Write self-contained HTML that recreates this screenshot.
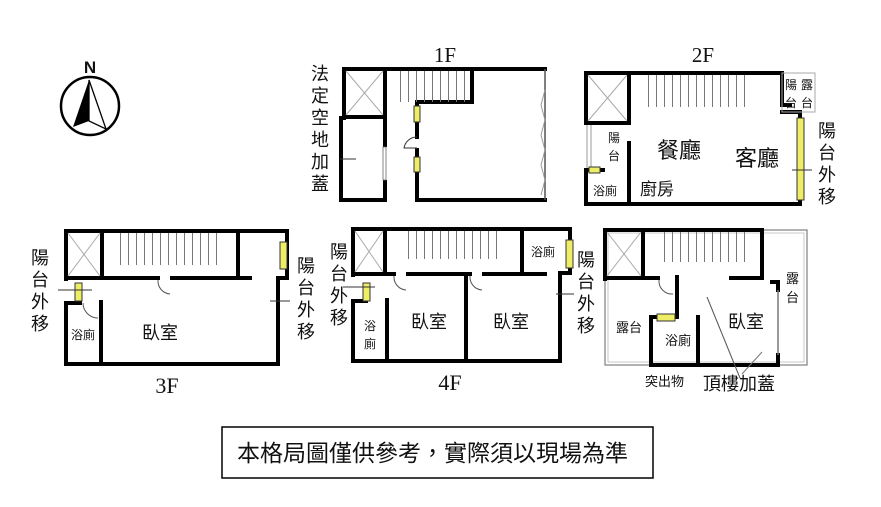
<!DOCTYPE html>
<html><head><meta charset="utf-8"><style>
html,body{margin:0;padding:0;background:#fff;}
svg{display:block;}
text{font-family:"Liberation Serif","Noto Serif CJK SC","Noto Sans CJK TC",serif;fill:#111;}
.s{font-family:"Liberation Sans","Noto Sans CJK TC",sans-serif;}
</style></head><body>
<svg width="881" height="507" viewBox="0 0 881 507" xmlns="http://www.w3.org/2000/svg">
<defs>
<pattern id="st" width="8" height="10" patternUnits="userSpaceOnUse"><line x1="0.5" y1="0" x2="0.5" y2="10" stroke="#777" stroke-width="1"/></pattern>
</defs>
<rect width="881" height="507" fill="#fff"/>

<!-- Compass -->
<text x="90" y="73" font-size="17" font-weight="bold" text-anchor="middle" class="s" font-family="Liberation Sans">N</text>
<circle cx="90" cy="106" r="29" fill="none" stroke="#000" stroke-width="2.5"/>
<polygon points="89,80 73,127 89,121" fill="#000"/>
<polygon points="89,80 106,129 89,121" fill="none" stroke="#000" stroke-width="1.3"/>

<!-- 1F -->
<text x="445" y="62" font-size="21" text-anchor="middle">1F</text>
<g stroke="#000" stroke-width="4" fill="none" stroke-linecap="square">
<polyline points="385,200 341,200 341,118 344,118 344,69 545,69"/>
<line x1="417" y1="200" x2="545" y2="200"/>
<line x1="344" y1="117" x2="385" y2="117"/>
<line x1="385" y1="69" x2="385" y2="145"/>
<line x1="385" y1="182" x2="385" y2="200"/>
<line x1="417" y1="102" x2="472" y2="102"/>
<line x1="472" y1="69" x2="472" y2="102"/>
<line x1="417" y1="102" x2="417" y2="137"/>
<line x1="417" y1="150" x2="417" y2="200"/>
</g>
<line x1="545" y1="69" x2="545" y2="200" stroke="#555" stroke-width="1.5"/>
<polyline points="545,90 541,105 545,120 541,135 545,150 541,165 545,180 541,195" fill="none" stroke="#999"/>
<line x1="346" y1="71" x2="383" y2="115" stroke="#aaa"/><line x1="383" y1="71" x2="346" y2="115" stroke="#aaa"/>
<rect x="400" y="71" width="72" height="31" fill="url(#st)"/>
<rect x="383" y="147" width="3" height="33" fill="#fff" stroke="#666" stroke-width="0.8"/>
<rect x="414" y="106" width="6" height="16" fill="#ee6" stroke="#333"/>
<rect x="414" y="157" width="6" height="15" fill="#ee6" stroke="#333"/>
<path d="M417,137 A13,13 0 0 0 404,148 L417,148" fill="none" stroke="#333"/>
<line x1="340" y1="159" x2="356" y2="159" stroke="#333"/>
<text font-size="18" class="s"><tspan x="311" y="80">法</tspan><tspan x="311" y="102">定</tspan><tspan x="311" y="124">空</tspan><tspan x="311" y="146">地</tspan><tspan x="311" y="168">加</tspan><tspan x="311" y="190">蓋</tspan></text>

<!-- 2F -->
<text x="703" y="62" font-size="21" text-anchor="middle">2F</text>
<g stroke="#000" stroke-width="4" fill="none" stroke-linecap="square">
<polyline points="586,123 586,73 782,73 782,105 790,105"/>
<polyline points="782,112 800,112 800,204 629,204"/>
<polyline points="586,170 586,204 629,204"/>
<line x1="586" y1="123" x2="629" y2="123"/>
<line x1="629" y1="73" x2="629" y2="123"/>
<line x1="629" y1="143" x2="629" y2="204"/>
<line x1="586" y1="170" x2="603" y2="170"/>
</g>
<line x1="588" y1="75" x2="627" y2="121" stroke="#aaa"/><line x1="627" y1="75" x2="588" y2="121" stroke="#aaa"/>
<rect x="643" y="75" width="107" height="32" fill="url(#st)"/>
<line x1="587" y1="125" x2="587" y2="168" stroke="#999"/><line x1="591" y1="125" x2="591" y2="168" stroke="#999"/>
<rect x="782" y="73" width="33" height="39" fill="none" stroke="#aaa"/>
<rect x="797" y="118" width="7" height="82" fill="#ee6" stroke="#333"/>
<line x1="792" y1="170" x2="812" y2="170" stroke="#333"/>
<rect x="589" y="167" width="11" height="6" fill="#ee6" stroke="#333"/>
<text font-size="22" class="s" x="657" y="158">餐廳</text>
<text font-size="22" class="s" x="735" y="166">客廳</text>
<text font-size="17" class="s" x="640" y="195">廚房</text>
<text font-size="12" class="s" x="593" y="195">浴廁</text>
<text font-size="12" class="s" fill="#555"><tspan x="608" y="142">陽</tspan><tspan x="608" y="160">台</tspan></text>
<text font-size="12" class="s"><tspan x="785" y="89">陽</tspan><tspan x="801" y="89">露</tspan><tspan x="785" y="107">台</tspan><tspan x="801" y="107">台</tspan></text>
<text font-size="18" class="s"><tspan x="818" y="137">陽</tspan><tspan x="818" y="159">台</tspan><tspan x="818" y="181">外</tspan><tspan x="818" y="203">移</tspan></text>

<!-- 3F -->
<text x="167" y="393" font-size="22" text-anchor="middle">3F</text>
<g stroke="#000" stroke-width="4" fill="none" stroke-linecap="square">
<polyline points="66,279 66,231 287,231 287,278 278,278 278,364 66,364 66,303 80,303"/>
<line x1="66" y1="278" x2="158" y2="278"/>
<line x1="172" y1="278" x2="250" y2="278"/>
<line x1="102" y1="231" x2="102" y2="278"/>
<line x1="238" y1="231" x2="238" y2="278"/>
<line x1="101" y1="302" x2="101" y2="364"/>
</g>
<line x1="68" y1="233" x2="100" y2="276" stroke="#aaa"/><line x1="100" y1="233" x2="68" y2="276" stroke="#aaa"/>
<rect x="116" y="233" width="102" height="32" fill="url(#st)"/>
<rect x="280" y="242" width="7" height="27" fill="#ee6" stroke="#333"/>
<rect x="75" y="283" width="7" height="18" fill="#ee6" stroke="#333"/>
<line x1="58" y1="290" x2="92" y2="290" stroke="#333"/>
<line x1="270" y1="301" x2="290" y2="301" stroke="#333"/>
<path d="M158,280 A13,13 0 0 0 170,294" fill="none" stroke="#555"/>
<path d="M83,303 A15,15 0 0 0 98,318" fill="none" stroke="#555"/>
<text font-size="18" class="s" x="142" y="339">臥室</text>
<text font-size="12" class="s" x="71" y="339">浴廁</text>
<text font-size="18" class="s"><tspan x="31" y="264">陽</tspan><tspan x="31" y="286">台</tspan><tspan x="31" y="308">外</tspan><tspan x="31" y="330">移</tspan></text>
<text font-size="18" class="s"><tspan x="297" y="272">陽</tspan><tspan x="297" y="294">台</tspan><tspan x="297" y="316">外</tspan><tspan x="297" y="338">移</tspan></text>

<!-- 4F -->
<text x="450" y="390" font-size="22" text-anchor="middle">4F</text>
<g stroke="#000" stroke-width="4" fill="none" stroke-linecap="square">
<polyline points="353,275 353,229 570,229 570,273 560,273 560,361 353,361 353,301 366,301"/>
<line x1="353" y1="274" x2="394" y2="274"/>
<line x1="408" y1="274" x2="470" y2="274"/>
<line x1="484" y1="274" x2="545" y2="274"/>
<line x1="385" y1="229" x2="385" y2="274"/>
<line x1="522" y1="229" x2="522" y2="274"/>
<line x1="466" y1="274" x2="466" y2="361"/>
<line x1="387" y1="300" x2="387" y2="361"/>
</g>
<line x1="355" y1="231" x2="383" y2="272" stroke="#aaa"/><line x1="383" y1="231" x2="355" y2="272" stroke="#aaa"/>
<rect x="401" y="231" width="99" height="28" fill="url(#st)"/>
<rect x="566" y="240" width="7" height="28" fill="#ee6" stroke="#333"/>
<rect x="363" y="283" width="7" height="18" fill="#ee6" stroke="#333"/>
<line x1="343" y1="287" x2="375" y2="287" stroke="#333"/>
<line x1="556" y1="294" x2="574" y2="294" stroke="#333"/>
<path d="M394,276 A13,13 0 0 0 406,290" fill="none" stroke="#555"/>
<path d="M470,276 A13,13 0 0 0 482,290" fill="none" stroke="#555"/>
<text font-size="18" class="s" x="411" y="328">臥室</text>
<text font-size="18" class="s" x="493" y="328">臥室</text>
<text font-size="12" class="s" x="531" y="256">浴廁</text>
<text font-size="12" class="s" fill="#444"><tspan x="364" y="330">浴</tspan><tspan x="364" y="348">廁</tspan></text>
<text font-size="18" class="s"><tspan x="330" y="258">陽</tspan><tspan x="330" y="280">台</tspan><tspan x="330" y="302">外</tspan><tspan x="330" y="324">移</tspan></text>
<text font-size="18" class="s"><tspan x="577" y="266">陽</tspan><tspan x="577" y="288">台</tspan><tspan x="577" y="310">外</tspan><tspan x="577" y="332">移</tspan></text>

<!-- RF -->
<rect x="605" y="230" width="202" height="135" fill="none" stroke="#888" stroke-width="1.3"/>
<rect x="608" y="233" width="196" height="129" fill="none" stroke="#bbb" stroke-width="0.8"/>
<g stroke="#000" stroke-width="4" fill="none" stroke-linecap="square">
<polyline points="605,279 605,230 762,230 762,278 731,278"/>
<line x1="605" y1="278" x2="658" y2="278"/>
<line x1="643" y1="230" x2="643" y2="278"/>
<polyline points="677,277 677,317 651,317 651,365 778,365 778,355"/>
<line x1="698" y1="317" x2="698" y2="365"/>
<polyline points="772,282 778,282 778,290"/>
</g>
<line x1="778" y1="290" x2="778" y2="355" stroke="#777" stroke-width="1.5"/>
<line x1="607" y1="232" x2="641" y2="276" stroke="#aaa"/><line x1="641" y1="232" x2="607" y2="276" stroke="#aaa"/>
<rect x="658" y="232" width="92" height="30" fill="url(#st)"/>
<rect x="657" y="314" width="18" height="7" fill="#ee6" stroke="#333"/>
<line x1="707" y1="297" x2="740" y2="378" stroke="#555"/>
<line x1="742" y1="374" x2="762" y2="352" stroke="#777"/>
<path d="M659,280 A13,13 0 0 0 673,294" fill="none" stroke="#555"/>
<text font-size="18" class="s" x="728" y="328">臥室</text>
<text font-size="13" class="s" x="665" y="345">浴廁</text>
<text font-size="13" class="s" x="616" y="332">露台</text>
<text font-size="13" class="s"><tspan x="786" y="283">露</tspan><tspan x="786" y="302">台</tspan></text>
<text font-size="13" class="s" x="645" y="386">突出物</text>
<text font-size="18" class="s" x="703" y="390">頂樓加蓋</text>

<!-- note -->
<rect x="222" y="427" width="431" height="51" fill="none" stroke="#000" stroke-width="1.5"/>
<text font-size="23" class="s" x="237" y="461">本格局圖僅供參考，實際須以現場為準</text>
</svg>
</body></html>
